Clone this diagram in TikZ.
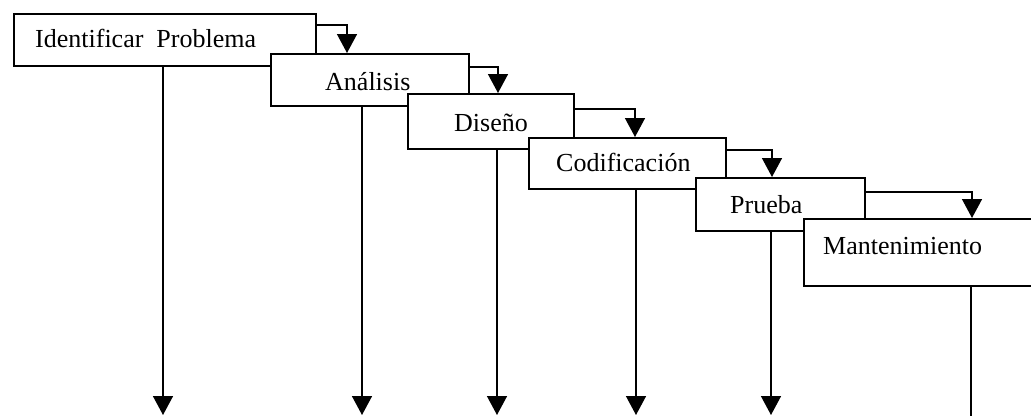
\documentclass[tikz,border=0pt]{standalone}
\usepackage{fontspec}
\setmainfont{Liberation Serif}
\usetikzlibrary{arrows.meta,calc}
\begin{document}
\begin{tikzpicture}[x=1pt,y=-1pt,
  box/.style={draw,line width=1.8pt,fill=white,inner sep=0pt,anchor=north west},
  lbl/.style={inner sep=0pt,anchor=base west,font=\fontsize{26}{30}\selectfont},
  conn/.style={line width=1.5pt,-{Triangle[width=20pt,length=19pt]}},
  plain/.style={line width=1.5pt}]
\useasboundingbox (0,0) rectangle (1031,416);
\node[box,minimum width=302pt,minimum height=52pt] (b1) at (13,13) {};
\node[box,minimum width=198pt,minimum height=52pt] (b2) at (270,53) {};
\node[box,minimum width=166pt,minimum height=55pt] (b3) at (407,93) {};
\node[box,minimum width=197pt,minimum height=51pt] (b4) at (528,137) {};
\node[box,minimum width=169pt,minimum height=53pt] (b5) at (695,177) {};
\node[box,minimum width=240pt,minimum height=67pt] (b6) at (803,218) {};
\node[lbl] (t1) at (35,47) {Identificar\ \ Problema};
\node[lbl] (t2) at (325,90) {Análisis};
\node[lbl] (t3) at (454,131) {Diseño};
\node[lbl] (t4) at (556,171) {Codificación};
\node[lbl] (t5) at (730,213) {Prueba};
\node[lbl] (t6) at (823,254) {Mantenimiento};
% step connectors
\draw[conn] ([yshift=-12pt]b1.north east) -| ([xshift=77pt]b2.north west);
\draw[conn] ([yshift=-14pt]b2.north east) -| ([xshift=91pt]b3.north west);
\draw[conn] ([yshift=-16pt]b3.north east) -| ([xshift=107pt]b4.north west);
\draw[conn] ([yshift=-13pt]b4.north east) -| ([xshift=77pt]b5.north west);
\draw[conn] ([yshift=-15pt]b5.north east) -| ([xshift=169pt]b6.north west);
% output arrows
\coordinate (o1) at (163,415);
\coordinate (o2) at (362,415);
\coordinate (o3) at (497,415);
\coordinate (o4) at (636,415);
\coordinate (o5) at (771,415);
\coordinate (o6) at (971,416);
\draw[conn] ([xshift=150pt]b1.south west) -- (o1);
\draw[conn] ([xshift=92pt]b2.south west) -- (o2);
\draw[conn] ([xshift=90pt]b3.south west) -- (o3);
\draw[conn] ([xshift=108pt]b4.south west) -- (o4);
\draw[conn] ([xshift=76pt]b5.south west) -- (o5);
\draw[plain] ([xshift=168pt]b6.south west) -- (o6);
\end{tikzpicture}
\end{document}
